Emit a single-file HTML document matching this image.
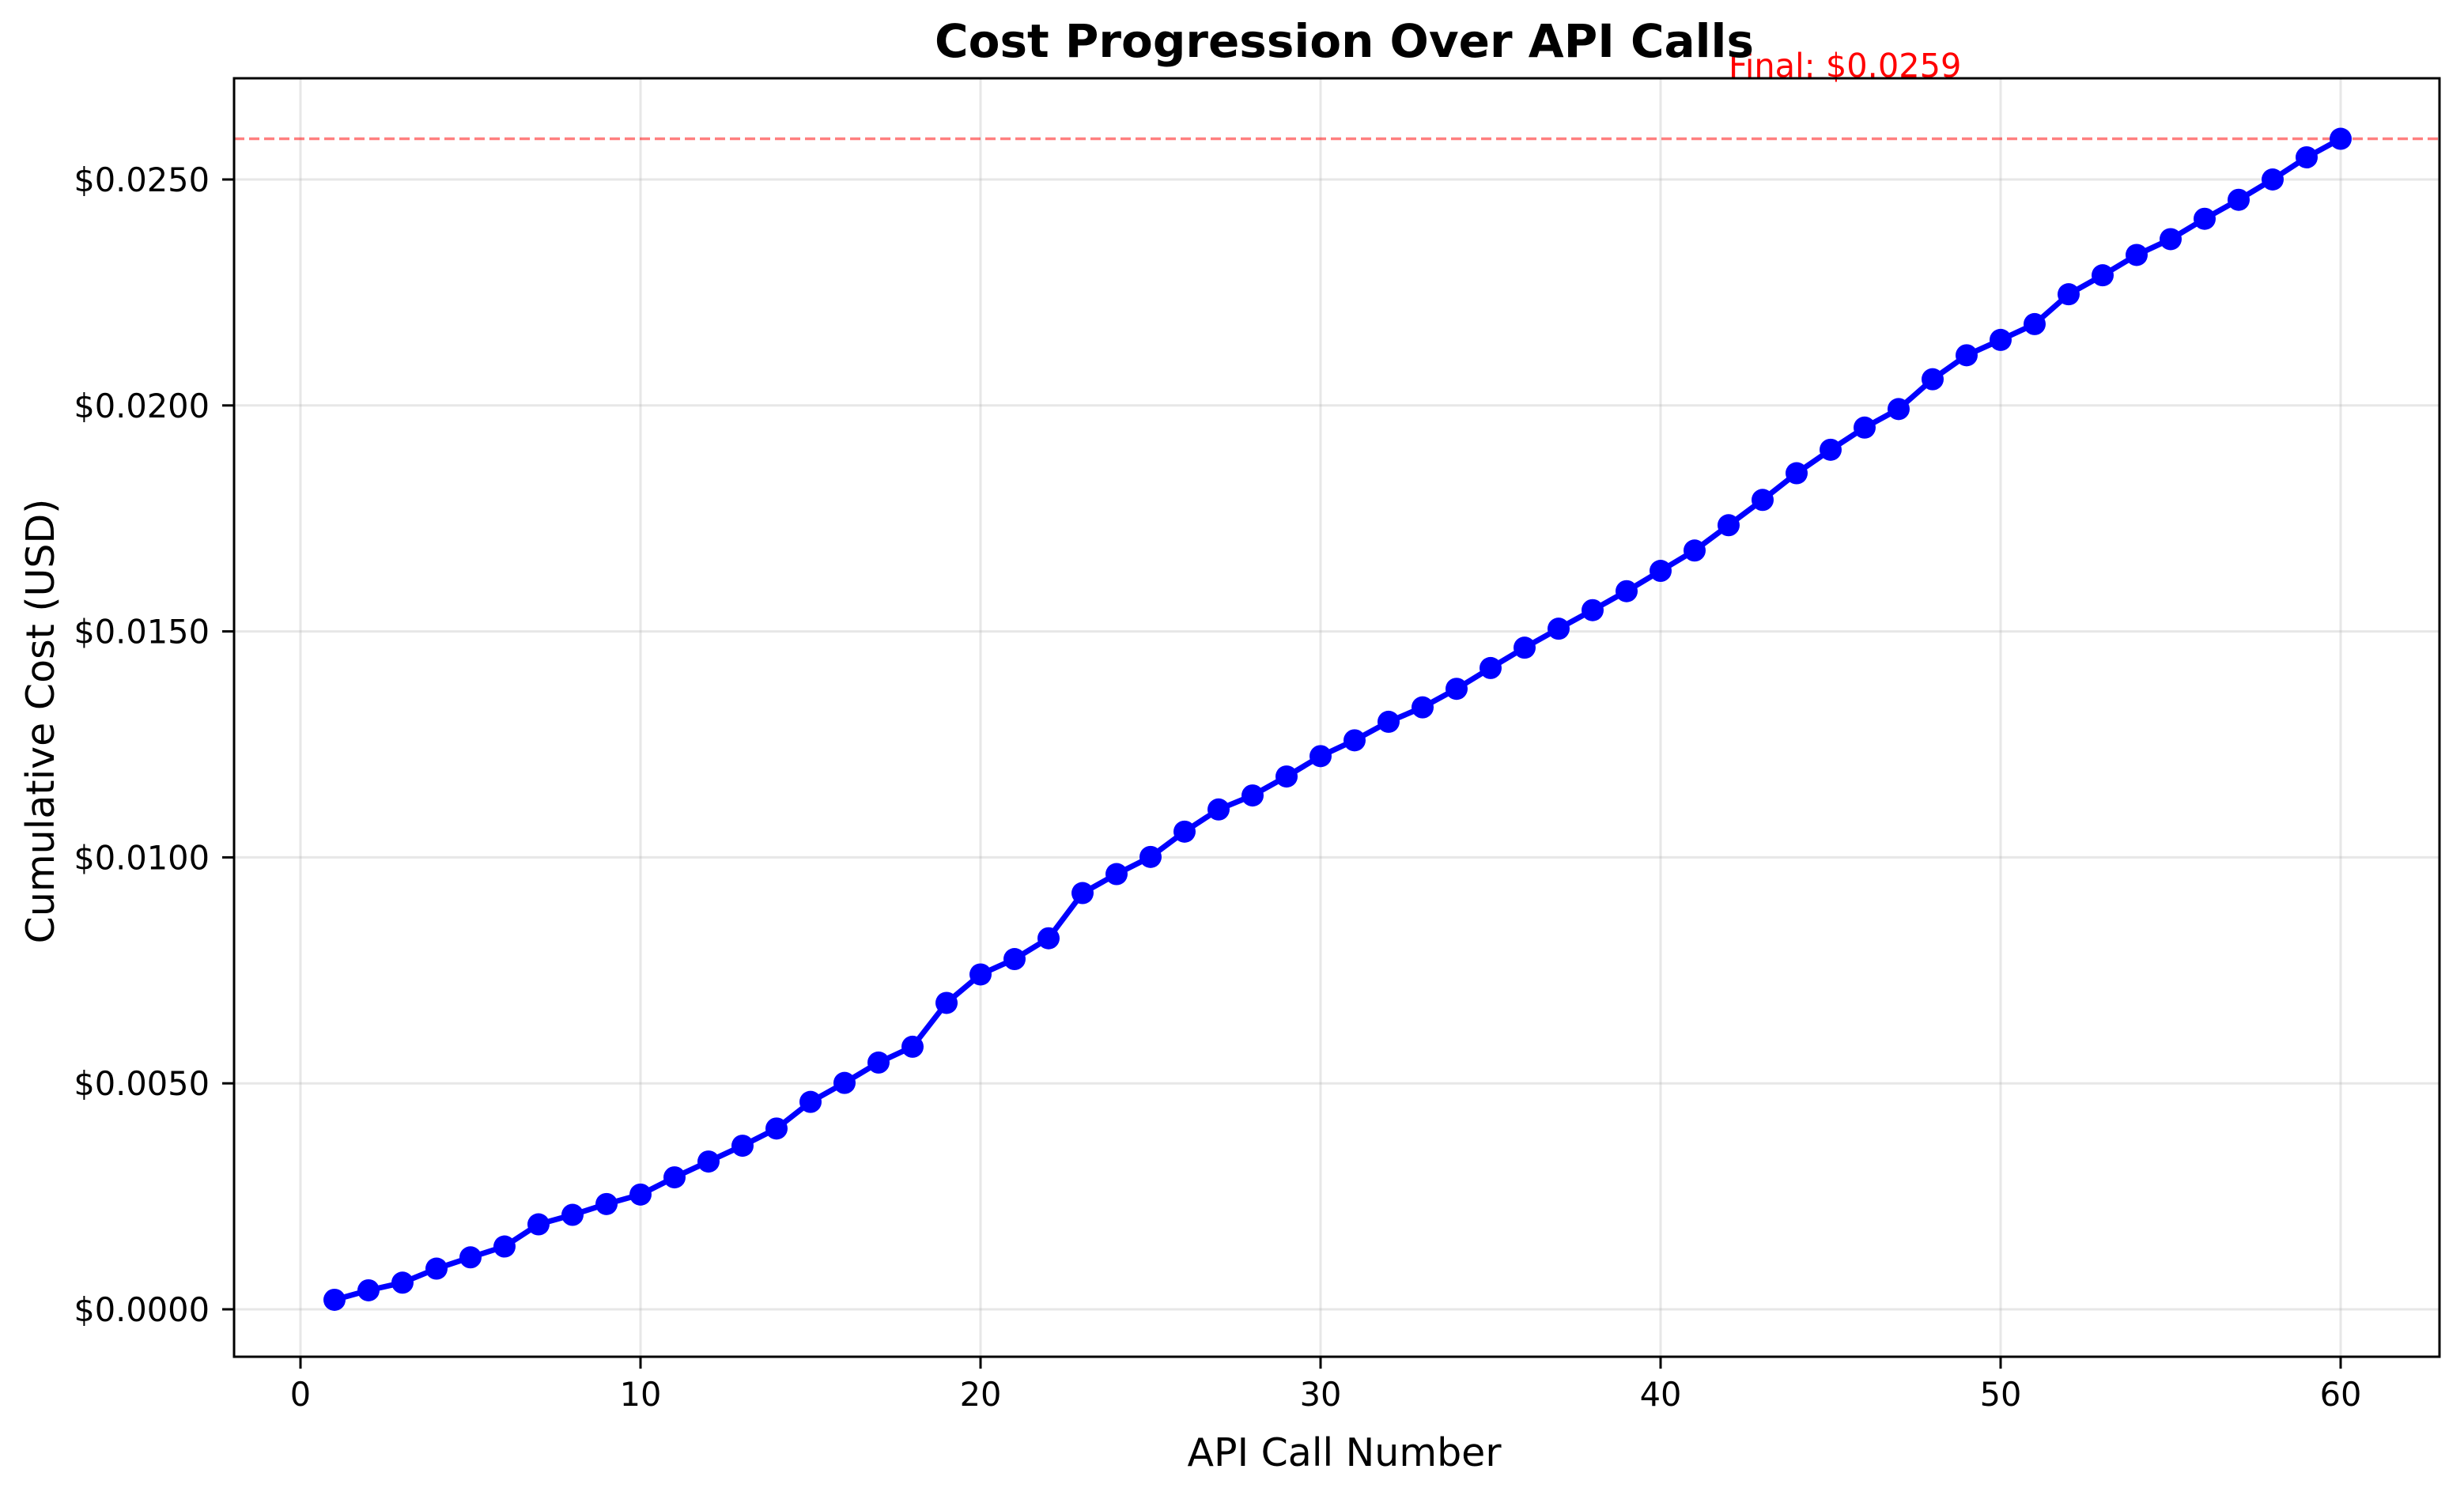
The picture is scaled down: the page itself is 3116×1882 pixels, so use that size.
<!DOCTYPE html>
<html><head><meta charset="utf-8"><style>
html,body{margin:0;padding:0;background:#fff;}
svg{display:block;font-family:"DejaVu Sans","Liberation Sans",sans-serif;}
</style></head><body>
<svg id="chart" width="3116" height="1882" viewBox="0 0 3116 1882">
<rect x="0" y="0" width="3116" height="1882" fill="#fff"/>
<g id="grid"></g>
<g id="xticks"></g>
<g id="yticks"></g>
<g id="series"></g>
<rect x="296" y="99" width="2789" height="1617" fill="none" stroke="#000" stroke-width="3"/>
<text x="1700" y="72" text-anchor="middle" font-size="58" font-weight="bold">Cost Progression Over API Calls</text>
<text x="1700" y="1854" text-anchor="middle" font-size="49">API Call Number</text>
<text transform="translate(68,912) rotate(-90)" text-anchor="middle" font-size="49">Cumulative Cost (USD)</text>
</svg>
<script>
const calls=[];for(let i=1;i<=60;i++)calls.push(i);
const costs=[0.00021,0.00042,0.00059,0.0009,0.00115,0.00139,0.00188,0.00209,0.00233,0.00254,
0.00292,0.00327,0.00362,0.0040,0.00459,0.00501,0.00546,0.00581,0.00678,0.00741,
0.00775,0.00821,0.00921,0.00963,0.01001,0.01057,0.01106,0.01137,0.01179,0.01224,
0.01259,0.01300,0.01332,0.01373,0.01419,0.01464,0.01506,0.01547,0.01589,0.01634,
0.01679,0.01735,0.01791,0.0185,0.01902,0.01951,0.01992,0.02058,0.02111,0.02145,
0.0218,0.02246,0.02288,0.02333,0.02368,0.02413,0.02455,0.025,0.02549,0.0259];
const xTicks=[0,10,20,30,40,50,60];
const yTicks=[0,0.005,0.01,0.015,0.02,0.025];
const finalLabel="Final: $0.0259";
const NS="http://www.w3.org/2000/svg";
const X=v=>380+v*(2960-380)/60;
const Y=v=>1656-v*(1656-227)/0.025;
function mk(tag,attrs,parent){const e=document.createElementNS(NS,tag);for(const k in attrs)e.setAttribute(k,attrs[k]);parent.appendChild(e);return e;}
const grid=document.getElementById('grid'),xt=document.getElementById('xticks'),yt=document.getElementById('yticks'),ser=document.getElementById('series');
xTicks.forEach(t=>{
 const g=mk('line',{x1:X(t),x2:X(t),y1:99,y2:1716,stroke:'#b0b0b0','stroke-opacity':0.3,'stroke-width':3},grid);
 
 
 const tk=mk('line',{x1:X(t),x2:X(t),y1:1716,y2:1731,stroke:'#000','stroke-width':3},xt);
 
 
 const tx=mk('text',{x:X(t),y:1778,'text-anchor':'middle','font-size':41.5},xt);tx.textContent=t;
 
 
});
yTicks.forEach(t=>{
 const g=mk('line',{x1:296,x2:3085,y1:Y(t),y2:Y(t),stroke:'#b0b0b0','stroke-opacity':0.3,'stroke-width':3},grid);
 
 
 const tk=mk('line',{x1:281,x2:296,y1:Y(t),y2:Y(t),stroke:'#000','stroke-width':3},yt);
 
 
 const tx=mk('text',{x:265,y:Y(t)+15,'text-anchor':'end','font-size':41.5},yt);tx.textContent='$'+t.toFixed(4);
 
 
});
const last=costs[costs.length-1];
const ref=mk('line',{x1:296,x2:3085,y1:Y(last),y2:Y(last),stroke:'#ff0000','stroke-opacity':0.5,'stroke-width':3.5,'stroke-dasharray':'13,6'},ser);


const fl=mk('text',{x:X(42),y:Y(last)-78,'font-size':41.5,fill:'#ff0000'},ser);fl.textContent=finalLabel;


const pts=calls.map((c,i)=>X(c)+','+Y(costs[i])).join(' ');
const pl=mk('polyline',{points:pts,fill:'none',stroke:'#0000ff','stroke-width':7,'stroke-linejoin':'round'},ser);


calls.forEach((c,i)=>{
 const p=mk('circle',{cx:X(c),cy:Y(costs[i]),r:14,fill:'#0000ff'},ser);
 
 
});
</script>
</body></html>
